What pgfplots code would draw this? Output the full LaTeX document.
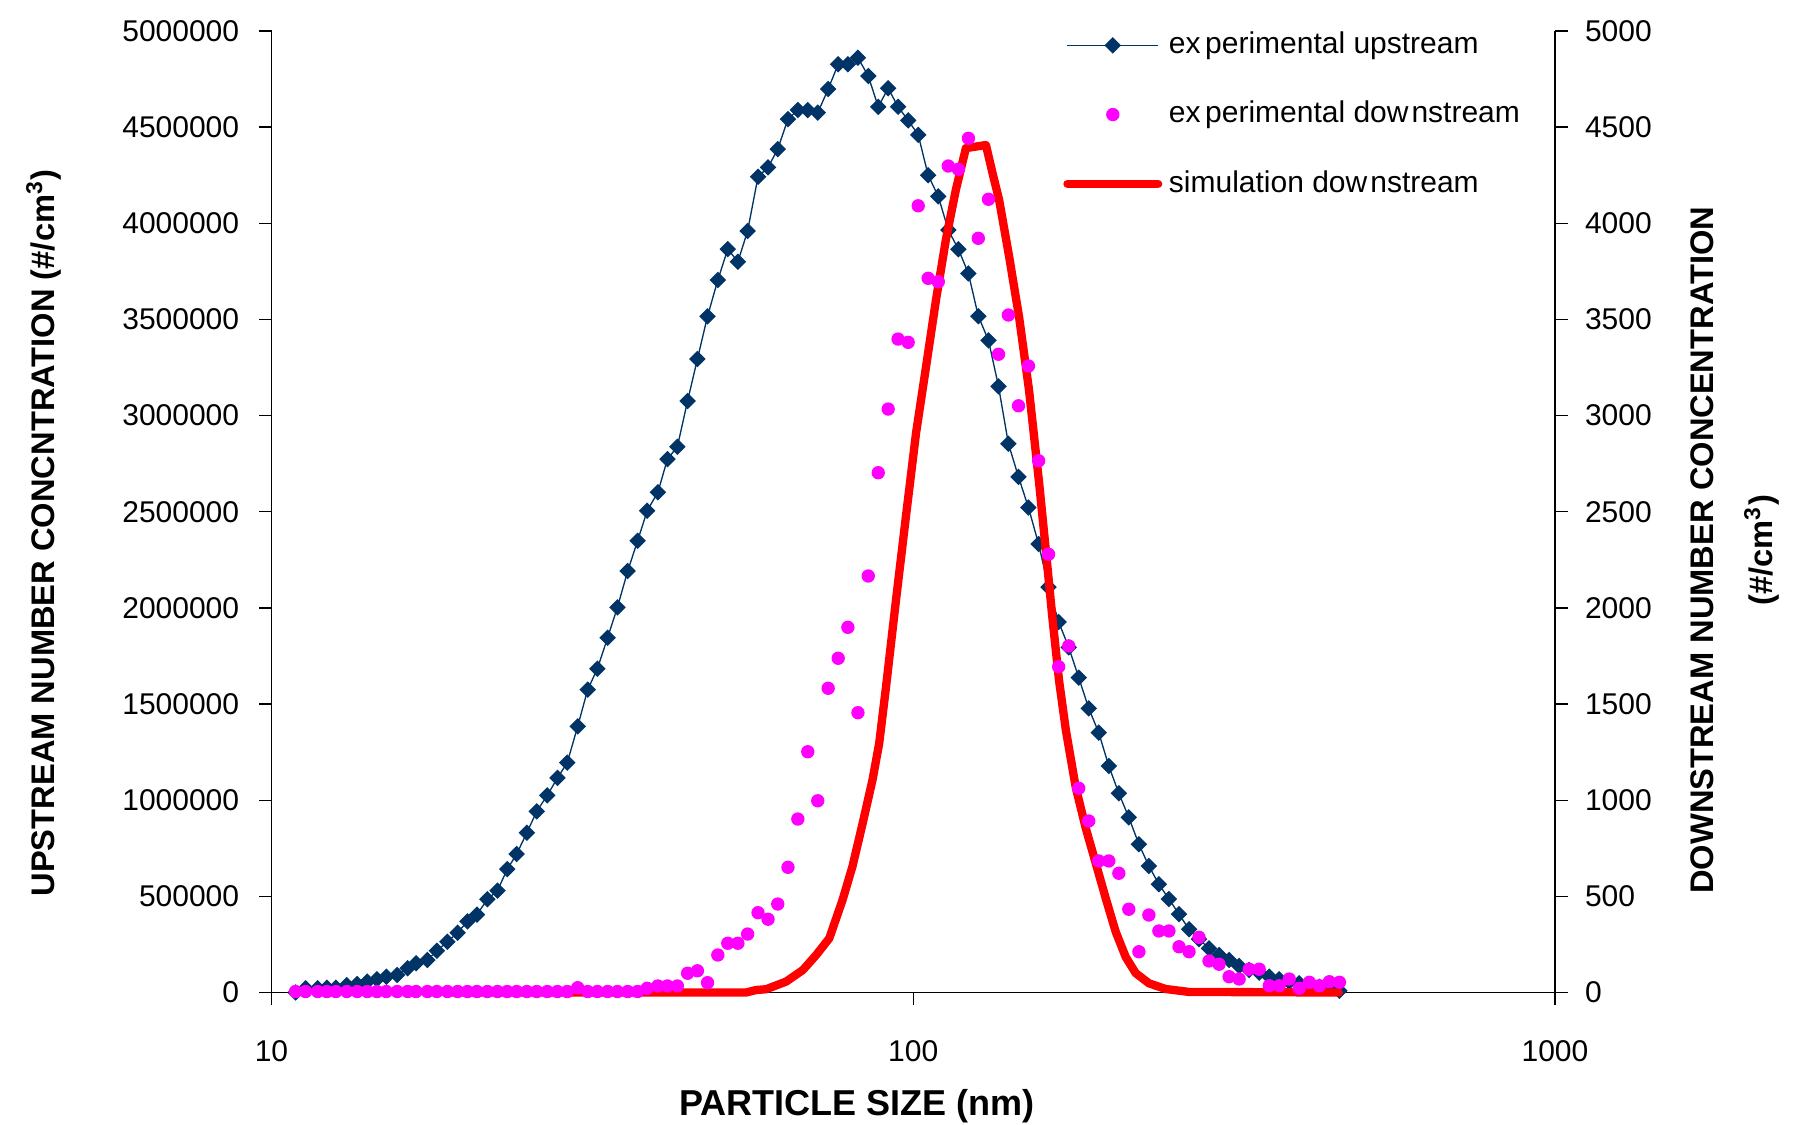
\documentclass[border=0pt]{standalone}
\usepackage{fontspec}
\setmainfont{Liberation Sans}
\usepackage{pgfplots}
\usepackage{pgfplotstable}
\pgfplotsset{compat=1.18}
\definecolor{navy}{HTML}{003366}
\definecolor{magen}{HTML}{FF00FF}
\definecolor{simred}{HTML}{FF0000}

\pgfplotstableread{
d up down
10.9 0 5
11.3 22000 5
11.8 22000 5
12.2 25000 5
12.6 25000 5
13.1 38000 5
13.6 44000 5
14.1 56000 5
14.6 69000 5
15.1 82000 5
15.7 91000 5
16.3 126000 5
16.8 152000 5
17.5 169000 5
18.1 217000 5
18.8 264000 5
19.5 311000 5
20.2 370000 5
20.9 405000 5
21.7 485000 5
22.5 530000 5
23.3 641000 5
24.1 720000 5
25.0 831000 5
25.9 942000 5
26.9 1025000 5
27.9 1116000 5
28.9 1195000 5
30.0 1384000 25
31.1 1575000 5
32.2 1684000 5
33.4 1845000 5
34.6 2003000 5
35.9 2192000 5
37.2 2349000 5
38.5 2505000 22
40.0 2601000 34
41.4 2774000 34
42.9 2838000 34
44.5 3076000 100
46.1 3294000 113
47.8 3516000 51
49.6 3705000 195
51.4 3866000 256
53.3 3800000 256
55.2 3960000 304
57.3 4242000 415
59.4 4291000 381
61.5 4386000 460
63.8 4542000 651
66.1 4589000 902
68.5 4589000 1252
71.0 4575000 997
73.7 4698000 1582
76.4 4827000 1738
79.1 4827000 1899
82.0 4861000 1455
85.1 4766000 2166
88.2 4606000 2703
91.4 4702000 3034
94.7 4606000 3398
98.2 4535000 3381
101.8 4460000 4091
105.5 4250000 3714
109.4 4140000 3696
113.4 3965000 4298
117.6 3865000 4281
121.9 3739000 4442
126.3 3517000 3922
131.0 3391000 4125
135.8 3152000 3319
140.7 2854000 3523
145.9 2681000 3051
151.2 2522000 3258
156.8 2332000 2765
162.5 2108000 2279
168.5 1927000 1694
174.7 1795000 1802
181.1 1637000 1062
187.7 1478000 892
194.6 1351000 684
201.7 1178000 684
209.1 1036000 620
216.7 911000 433
224.7 771000 212
232.9 658000 403
241.4 563000 320
250.3 486000 320
259.5 407000 238
269.0 329000 212
278.8 277000 287
289.0 230000 164
299.6 195000 147
310.6 169000 82
322.0 138000 70
333.8 117000 121
346.0 103000 121
358.7 82000 35
371.8 69000 35
385.4 56000 70
399.5 48000 22
414.2 34000 53
429.4 30000 35
445.1 22000 56
461.4 9000 53
}\expdata

\pgfplotstableread{
d sim
18.96 0
54.9 0
56.9 13
59.0 17
63.4 57
67.3 117
70.6 195
74.0 282
77.6 481
80.4 655
83.4 880
86.4 1105
88.5 1296
90.7 1590
94.0 2041
97.4 2474
101.0 2908
104.7 3254
108.5 3601
112.4 3913
116.5 4173
120.8 4391
129.8 4407
132.9 4261
136.1 4121
141.1 3825
146.2 3513
151.5 3133
157.1 2649
160.9 2301
164.7 1953
168.7 1625
172.9 1365
179.1 1069
185.7 855
192.5 673
199.5 491
206.8 315
214.3 185
222.1 101
232.9 48
247.4 18
268.9 3
460.3 0
}\simdata

\begin{document}
\begin{tikzpicture}
\useasboundingbox (-81.45pt,-39.75pt) rectangle (457.65pt,297.75pt);
\begin{axis}[
  at={(0pt,0pt)}, anchor=south west,
  scale only axis, width=385.05pt, height=288.45pt,
  xmode=log, xmin=10, xmax=1000, ymin=0, ymax=5000000,
  tick align=outside, major tick length=3.8pt,
  tick style={black, line width=0.4pt},
  axis line style={black, line width=0.4pt},
  minor x tick num=0, minor y tick num=0,
  xminorticks=false,
  tick label style={font=\fontsize{9}{10}\selectfont},
  /pgf/number format/assume math mode=true,
  scaled y ticks=false,
  yticklabel style={xshift=-2.4pt, /pgf/number format/fixed, /pgf/number format/precision=0, /pgf/number format/1000 sep={}},
  xticklabel style={yshift=-7.2pt},
  clip=false,
  axis y line*=left, axis x line*=bottom,
  ytick distance=500000,
  xtick={10,100,1000}, xticklabels={10,100,1000},
  xlabel={PARTICLE SIZE (nm)},
  xlabel style={font=\fontsize{10.8}{13}\selectfont\bfseries, at={(rel axis cs:0.4563,0)}, anchor=center, yshift=-34pt},
  ylabel={UPSTREAM NUMBER CONCNTRATION (\#/cm\textsuperscript{3})},
  ylabel style={font=\fontsize{9.8}{12}\selectfont\bfseries, at={(rel axis cs:-0.1776,0.478)}, anchor=center},
]
\addplot[navy, line width=0.4pt, mark=square*, mark size=1.55pt, mark options={solid, rotate=45, fill=navy, draw=navy}] table[x=d, y=up] {\expdata};
\end{axis}
\begin{axis}[
  at={(0pt,0pt)}, anchor=south west,
  scale only axis, width=385.05pt, height=288.45pt,
  xmode=log, xmin=10, xmax=1000, ymin=0, ymax=5000,
  tick align=outside, major tick length=3.8pt,
  tick style={black, line width=0.4pt},
  axis line style={black, line width=0.4pt},
  minor y tick num=0,
  xminorticks=false,
  tick label style={font=\fontsize{9}{10}\selectfont},
  /pgf/number format/assume math mode=true,
  scaled y ticks=false,
  yticklabel style={xshift=1.7pt, /pgf/number format/fixed, /pgf/number format/precision=0, /pgf/number format/1000 sep={}},
  clip=false,
  axis y line*=right, axis x line=none,
  ytick distance=500,
  ylabel={DOWNSTREAM NUMBER CONCENTRATION\\(\#/cm\textsuperscript{3})},
  ylabel style={font=\fontsize{9.8}{17.5}\selectfont\bfseries, align=center, at={(rel axis cs:1.1403,0.46)}, anchor=center},
  legend style={draw=none, fill=none, at={(rel axis cs:0.6164,0.9131)}, anchor=west, font=\fontsize{9}{10}\selectfont, row sep=8.75pt, inner sep=0pt},
  legend cell align=left,
  legend image code/.code={\draw[mark repeat=2,mark phase=2,#1] plot coordinates {(0pt,0pt) (13.6pt,0pt) (27.2pt,0pt)};},
]
\addlegendimage{navy, line width=0.4pt, mark=square*, mark size=1.55pt, mark options={solid, rotate=45, fill=navy, draw=navy}}
\addlegendentry{ex\hspace{0.15em}perimental upstream}
\addlegendimage{only marks, mark=*, mark size=1.8pt, magen, mark options={fill=magen, draw=magen}}
\addlegendentry{ex\hspace{0.15em}perimental dow\hspace{0.1em}nstream}
\addlegendimage{simred, line width=2.5pt, line cap=round}
\addlegendentry{simulation dow\hspace{0.1em}nstream}
\addplot[forget plot, simred, line width=2.5pt, line join=round, line cap=round] table[x=d, y=sim] {\simdata};
\addplot[forget plot, only marks, mark=*, mark size=1.8pt, mark options={fill=magen, draw=magen}] table[x=d, y=down] {\expdata};
\end{axis}
\end{tikzpicture}
\end{document}
